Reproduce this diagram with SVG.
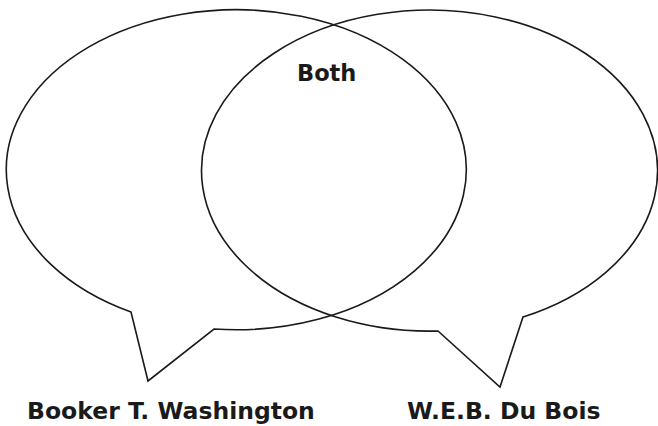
<svg xmlns="http://www.w3.org/2000/svg" width="658" height="426" viewBox="0 0 658 426">
<style>
.bubble{fill:none;stroke:#1a1a1a;stroke-width:1.6;stroke-linejoin:miter}
.lbl{font-family:"DejaVu Sans",Verdana,sans-serif;font-weight:bold;font-size:23.5px;fill:#1a1a1a}
</style>
<rect width="658" height="426" fill="#ffffff"/>
<g id="washington">
<path class="bubble" d="M131,312 L148,381 L214,329 A230,160 0 1 0 131,312 Z"/>
<text class="lbl" x="27" y="419">Booker T. Washington</text>
</g>
<g id="dubois">
<path class="bubble" d="M438,331 L500,387 L523,317 A228,160.5 0 1 0 438,331 Z"/>
<text class="lbl" x="407" y="419">W.E.B. Du Bois</text>
</g>
<g id="both">
<text class="lbl" x="297" y="81" style="font-size:22.5px">Both</text>
</g>
<g id="connectors"/>
</svg>
